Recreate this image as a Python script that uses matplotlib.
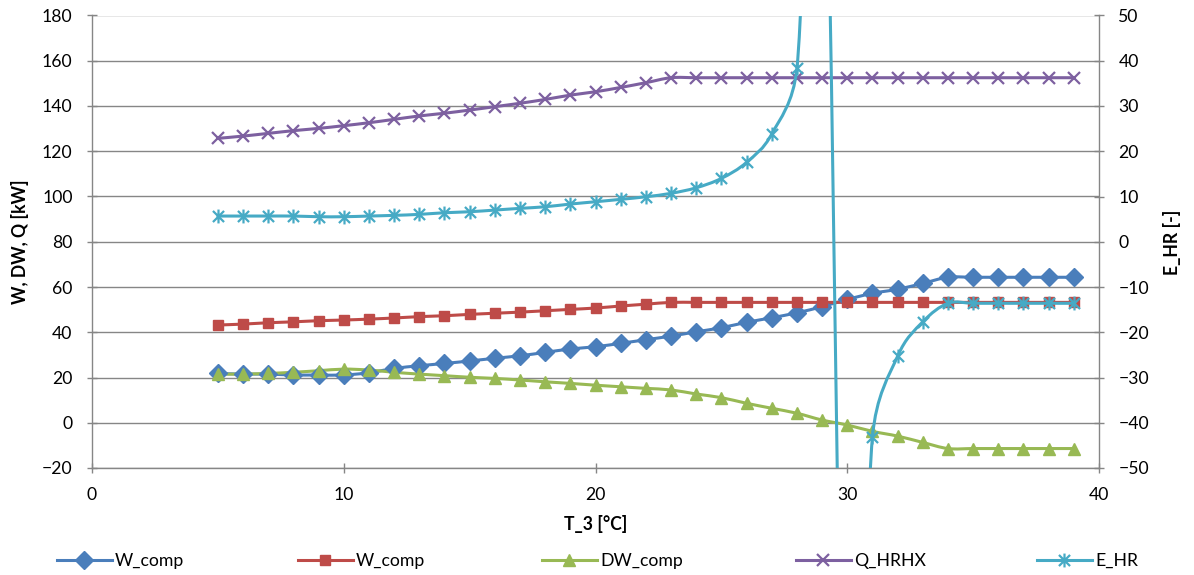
import math
import matplotlib
matplotlib.use("Agg")
import matplotlib.pyplot as plt
from matplotlib.path import Path
from matplotlib.patches import PathPatch
from matplotlib.lines import Line2D

plt.rcParams['font.family'] = ['Lato', 'DejaVu Sans']

# ---------------- data ----------------
T3 = list(range(5, 40))

W_comp_1 = [21.8, 21.5, 21.5, 21.1, 21.1, 21.1, 22.1, 24.0, 25.2, 26.2, 27.3, 28.5,
            29.6, 31.1, 32.6, 33.6, 35.1, 36.7, 38.3, 40.2, 42.0, 44.4, 46.4, 48.6,
            51.3, 54.5, 57.2, 59.0, 61.6, 64.3, 64.3, 64.3, 64.3, 64.3, 64.3]

W_comp_2 = [43.2, 43.6, 44.2, 44.6, 45.1, 45.4, 45.8, 46.3, 46.9, 47.3, 47.9, 48.4,
            48.9, 49.5, 50.1, 50.7, 51.6, 52.4, 53.2, 53.2, 53.2, 53.2, 53.2, 53.2,
            53.2, 53.2, 53.2, 53.2, 53.2, 53.2, 53.2, 53.2, 53.2, 53.2, 53.2]

DW_comp = [21.5, 21.5, 21.8, 22.3, 23.0, 23.7, 23.3, 22.3, 21.5, 20.8, 20.1, 19.6,
           18.9, 18.1, 17.4, 16.6, 15.9, 15.2, 14.5, 12.7, 11.1, 8.6, 6.4, 4.2,
           1.2, -1.0, -3.8, -5.9, -8.7, -11.4, -11.4, -11.4, -11.4, -11.4, -11.4]

Q_HRHX = [125.7, 126.7, 127.9, 129.1, 130.1, 131.3, 132.6, 134.1, 135.6, 136.8, 138.2,
          139.7, 141.2, 142.9, 144.8, 146.3, 148.2, 150.3, 152.5, 152.5, 152.5, 152.5,
          152.5, 152.5, 152.5, 152.5, 152.5, 152.5, 152.5, 152.5, 152.5, 152.5, 152.5,
          152.5, 152.5]

E_HR = [5.68, 5.68, 5.68, 5.68, 5.53, 5.53, 5.68, 5.83, 6.05, 6.41, 6.63, 7.0, 7.38,
        7.73, 8.33, 8.84, 9.37, 9.94, 10.70, 11.93, 14.0, 17.55, 23.8, 38.3, 128.0,
        -150.0, -43.2, -25.3, -17.7, -13.6, -13.6, -13.6, -13.6, -13.6, -13.6]

left_ticks = list(range(-20, 181, 20))
right_ticks = list(range(-50, 51, 10))
x_ticks = [0, 10, 20, 30, 40]

# ---------------- style ----------------
C_BLUE = '#4A7EBB'
C_RED = '#BE4B48'
C_GREEN = '#98B954'
C_PURPLE = '#7D60A0'
C_CYAN = '#46AAC5'
GRAY = '#868686'
FS = 12.7
LW = 2.2

star = Path([(-1, -1), (1, 1), (-1, 1), (1, -1), (0, -1.25), (0, 1.25)],
            [Path.MOVETO, Path.LINETO, Path.MOVETO, Path.LINETO, Path.MOVETO, Path.LINETO])


def smooth_path(x, y, sx, sy):
    """Excel-like smoothed line: Catmull-Rom Bezier, control arms capped at
    half the segment length (computed in pixel space via sx, sy)."""
    P = [(xi * sx, yi * sy) for xi, yi in zip(x, y)]
    n = len(P)
    verts = [(x[0], y[0])]
    codes = [Path.MOVETO]

    def cap(v, lim):
        L = math.hypot(v[0], v[1])
        if L > lim and L > 0:
            return (v[0] * lim / L, v[1] * lim / L)
        return v

    for i in range(n - 1):
        p0 = P[i - 1] if i > 0 else P[i]
        p1 = P[i]
        p2 = P[i + 1]
        p3 = P[i + 2] if i + 2 < n else p2
        seg = math.hypot(p2[0] - p1[0], p2[1] - p1[1])
        v1 = cap(((p2[0] - p0[0]) / 6.0, (p2[1] - p0[1]) / 6.0), seg / 2.0)
        v2 = cap(((p3[0] - p1[0]) / 6.0, (p3[1] - p1[1]) / 6.0), seg / 2.0)
        c1 = ((p1[0] + v1[0]) / sx, (p1[1] + v1[1]) / sy)
        c2 = ((p2[0] - v2[0]) / sx, (p2[1] - v2[1]) / sy)
        verts += [c1, c2, (p2[0] / sx, p2[1] / sy)]
        codes += [Path.CURVE4] * 3
    return Path(verts, codes)


fig = plt.figure(figsize=(11.94, 5.75), dpi=100)
ax = fig.add_axes([92 / 1194, 1 - 468 / 575, (1099 - 92) / 1194, (468 - 15.5) / 575])
ax2 = ax.twinx()

PX_X = 25.17
PX_L = 2.2625
PX_R = 4.525

series = [
    (ax, PX_L, W_comp_1, C_BLUE, dict(marker='D', markersize=9.5), 'W_comp'),
    (ax, PX_L, W_comp_2, C_RED, dict(marker='s', markersize=7), 'W_comp'),
    (ax, PX_L, DW_comp, C_GREEN, dict(marker='^', markersize=8.5), 'DW_comp'),
    (ax, PX_L, Q_HRHX, C_PURPLE, dict(marker='x', markersize=9, markeredgewidth=1.6), 'Q_HRHX'),
    (ax2, PX_R, E_HR, C_CYAN, dict(marker=star, markersize=10, markeredgewidth=1.6), 'E_HR'),
]

handles = []
for a, sy, vals, col, mk, lab in series:
    patch = PathPatch(smooth_path(T3, vals, PX_X, sy), facecolor='none', edgecolor=col,
                      linewidth=LW, transform=a.transData, zorder=3, capstyle='round')
    a.add_patch(patch)
    a.plot(T3, vals, linestyle='none', color=col, markerfacecolor=col,
           markeredgecolor=col, zorder=4, clip_on=True, **mk)
    handles.append(Line2D([0], [0], color=col, linewidth=LW, markerfacecolor=col,
                          markeredgecolor=col, label=lab, **mk))

ax.set_xlim(0, 40)
ax.set_ylim(-20, 180)
ax2.set_ylim(-50, 50)
ax.set_xticks(x_ticks)
ax.set_yticks(left_ticks)
ax2.set_yticks(right_ticks)

ax.yaxis.grid(True, color=GRAY, linewidth=1.0)
ax.set_axisbelow(True)

for a in (ax, ax2):
    for s in a.spines.values():
        s.set_color(GRAY)
        s.set_linewidth(1.0)
    a.spines['top'].set_visible(False)
ax.spines['right'].set_visible(False)
ax2.spines['left'].set_visible(False)
ax2.spines['bottom'].set_visible(False)

ax.tick_params(axis='both', direction='inout', length=7, width=1.0, color=GRAY,
               labelsize=FS, labelcolor='black')
ax.tick_params(axis='y', pad=10.5)
ax.tick_params(axis='x', pad=10)
ax2.tick_params(axis='y', direction='inout', length=7, width=1.0, color=GRAY,
                labelsize=FS, labelcolor='black', pad=10.5)

fig.text(20.5 / 1194, 1 - 242 / 575, 'W, DW, Q [kW]', rotation=90, ha='center',
         va='center', fontsize=FS, fontweight='bold')
fig.text(1172 / 1194, 1 - 242 / 575, 'E_HR [-]', rotation=90, ha='center',
         va='center', fontsize=FS, fontweight='bold')
fig.text(596 / 1194, 1 - 524 / 575, 'T_3 [°C]', ha='center', va='center',
         fontsize=FS, fontweight='bold')

leg_x = [57, 298, 542, 796, 1037]
for h, x0 in zip(handles, leg_x):
    fig.legend(handles=[h], loc='center left', bbox_to_anchor=(x0 / 1194, 1 - 561 / 575),
               frameon=False, fontsize=FS, handlelength=3.1, handletextpad=0.2,
               borderpad=0, borderaxespad=0)

fig.savefig('out.png', dpi=100)
